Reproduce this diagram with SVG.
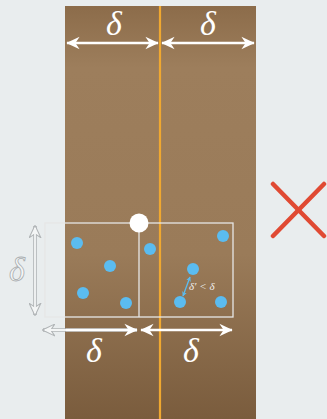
<svg xmlns="http://www.w3.org/2000/svg" width="327" height="419" viewBox="0 0 327 419">
<defs>
<linearGradient id="wood" x1="0" y1="0" x2="0" y2="1">
<stop offset="0" stop-color="#8c6c4a"/>
<stop offset="0.15" stop-color="#9d7e5c"/>
<stop offset="0.6" stop-color="#9a7b59"/>
<stop offset="1" stop-color="#7a5c3d"/>
</linearGradient>
<marker id="ahb" viewBox="0 0 10 10" refX="9" refY="5" markerWidth="5" markerHeight="5" markerUnits="userSpaceOnUse" orient="auto-start-reverse">
<path d="M0,0 L10,5 L0,10 L3,5 Z" fill="#5bbcf0"/>
</marker>
<marker id="aho" viewBox="0 0 10 10" refX="9" refY="5" markerWidth="13" markerHeight="13" markerUnits="userSpaceOnUse" orient="auto-start-reverse">
<path d="M0,0.5 L9.5,5 L0,9.5 L3,5 Z" fill="#f4f6f6" stroke="#b0b4b6" stroke-width="0.8"/>
</marker>
<marker id="ahw" viewBox="0 0 10 10" refX="9" refY="5" markerWidth="14" markerHeight="14" markerUnits="userSpaceOnUse" orient="auto-start-reverse">
<path d="M0,0.5 L9.5,5 L0,9.5 L3,5 Z" fill="#ffffff"/>
</marker>
</defs>
<style>
.dim{stroke:#ffffff;stroke-width:2.4;fill:none}
.box{stroke:#e6e6e6;stroke-width:1.3;fill:none}
.dot{fill:#5bbcf0}
.d{font-family:"Liberation Serif",serif;font-style:italic;fill:#ffffff;font-size:34px;text-anchor:middle}
.ds{font-family:"Liberation Serif",serif;font-style:italic;fill:#f0f0f0;font-size:11px}
</style>
<rect width="327" height="419" fill="#e9edee"/>
<g id="strip">
<rect x="65" y="6" width="191" height="413" fill="url(#wood)"/>
<line x1="160" y1="6" x2="160" y2="419" stroke="#f0a830" stroke-width="2.2"/>
</g>
<g id="connectors">
<line class="dim" x1="67" y1="43" x2="158" y2="43" marker-start="url(#ahw)" marker-end="url(#ahw)"/>
<line class="dim" x1="162" y1="43" x2="254" y2="43" marker-start="url(#ahw)" marker-end="url(#ahw)"/>
<line x1="35" y1="226" x2="35" y2="315" stroke="#b0b4b6" stroke-width="3.6" marker-start="url(#aho)" marker-end="url(#aho)"/>
<line x1="35" y1="228" x2="35" y2="313" stroke="#f4f6f6" stroke-width="1.8"/>
<line x1="43" y1="330" x2="137" y2="330" stroke="#b0b4b6" stroke-width="3.6" marker-start="url(#aho)"/>
<line x1="45" y1="330" x2="137" y2="330" stroke="#f4f6f6" stroke-width="1.8"/>
<line class="dim" x1="66" y1="330" x2="137" y2="330" marker-end="url(#ahw)"/>
<line class="dim" x1="141" y1="330" x2="232" y2="330" marker-start="url(#ahw)" marker-end="url(#ahw)"/>
<line x1="190" y1="277" x2="183" y2="296" stroke="#5bbcf0" stroke-width="1.3" marker-start="url(#ahb)" marker-end="url(#ahb)"/>
</g>
<g id="boxes">
<rect class="box" x="45" y="223" width="188" height="94"/>
<line class="box" x1="139" y1="223" x2="139" y2="317"/>
</g>
<g id="points">
<circle class="dot" cx="77" cy="243" r="6"/>
<circle class="dot" cx="110" cy="266" r="6"/>
<circle class="dot" cx="83" cy="293" r="6"/>
<circle class="dot" cx="126" cy="303" r="6"/>
<circle class="dot" cx="150" cy="249" r="6"/>
<circle class="dot" cx="223" cy="236" r="6"/>
<circle class="dot" cx="193" cy="269" r="6"/>
<circle class="dot" cx="180" cy="302" r="6"/>
<circle class="dot" cx="221" cy="302" r="6"/>
<circle cx="139" cy="223" r="9.5" fill="#ffffff"/>
</g>
<g id="labels">
<text class="d" x="114" y="35">δ</text>
<text class="d" x="208" y="35">δ</text>
<text class="d" x="94" y="362">δ</text>
<text class="d" x="191" y="362">δ</text>
<text class="d" x="17" y="281" stroke="#a8acae" stroke-width="0.8" style="fill:#f4f6f6">δ</text>
<text class="ds" x="189" y="290">δ′ &lt; δ</text>
</g>
<g id="cross" stroke="#e04a33" stroke-width="4.5" stroke-linecap="round">
<line x1="273" y1="184" x2="324" y2="236"/>
<line x1="324" y1="184" x2="273" y2="236"/>
</g>
</svg>
